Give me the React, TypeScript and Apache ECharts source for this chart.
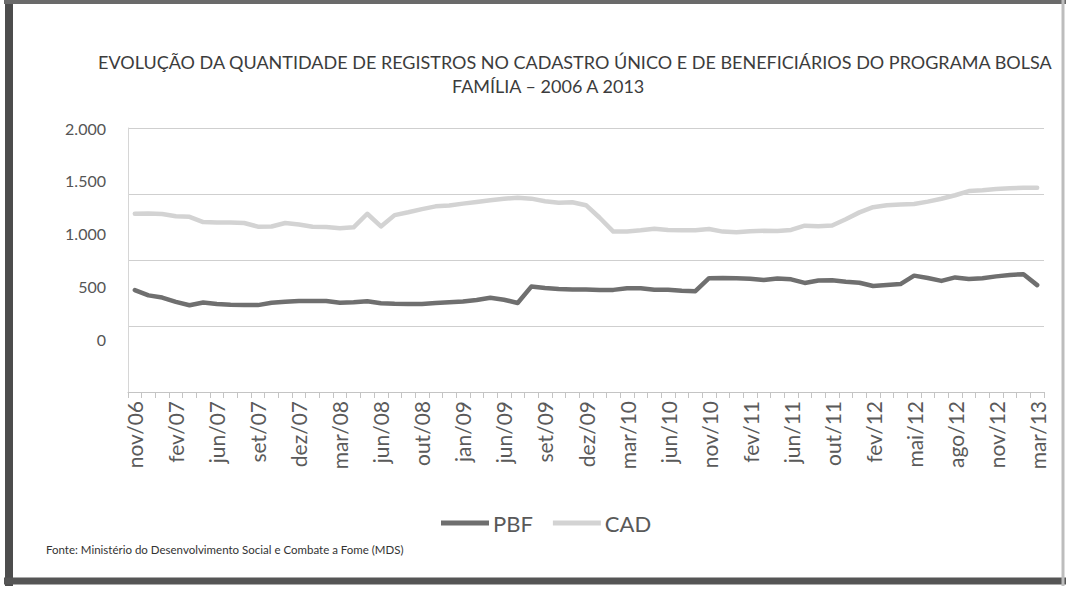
import React, { useEffect, useRef } from "react";
import * as echarts from "echarts";

const categories = [
  "nov/06","dez/06","jan/07","fev/07","mar/07","abr/07","jun/07","jul/07","ago/07","set/07",
  "out/07","nov/07","dez/07","jan/08","fev/08","mar/08","abr/08","mai/08","jun/08","jul/08",
  "ago/08","out/08","nov/08","dez/08","jan/09","fev/09","abr/09","jun/09","jul/09","ago/09",
  "set/09","out/09","nov/09","dez/09","jan/10","fev/10","mar/10","abr/10","mai/10","jun/10",
  "ago/10","out/10","nov/10","dez/10","jan/11","fev/11","mar/11","abr/11","jun/11","jul/11",
  "ago/11","out/11","nov/11","dez/11","fev/12","mar/12","abr/12","mai/12","jun/12","jul/12",
  "ago/12","set/12","out/12","nov/12","dez/12","jan/13","mar/13",
];

const pbf = [
  465, 415, 394, 354, 322, 347, 334, 326, 324, 323,
  346, 354, 361, 362, 361, 346, 351, 360, 340, 335,
  333, 334, 342, 350, 357, 372, 392, 374, 343, 498,
  484, 475, 470, 471, 466, 467, 482, 483, 468, 469,
  458, 455, 578, 580, 578, 573, 561, 575, 567, 533,
  555, 558, 543, 535, 504, 513, 522, 602, 579, 552,
  585, 571, 578, 595, 609, 615, 512,
];

const cad = [
  1189, 1190, 1185, 1164, 1159, 1109, 1104, 1105, 1100, 1066,
  1067, 1100, 1086, 1064, 1062, 1051, 1059, 1188, 1068, 1175,
  1202, 1232, 1258, 1266, 1284, 1300, 1315, 1329, 1340, 1331,
  1307, 1293, 1297, 1269, 1150, 1019, 1020, 1031, 1045, 1033,
  1031, 1032, 1043, 1019, 1013, 1022, 1026, 1024, 1035, 1075,
  1069, 1077, 1136, 1201, 1250, 1268, 1276, 1280, 1303, 1330,
  1363, 1403, 1411, 1422, 1430, 1434, 1435,
];

const titleLine1 =
  "EVOLUÇÃO DA QUANTIDADE DE REGISTROS NO CADASTRO ÚNICO E DE BENEFICIÁRIOS DO PROGRAMA BOLSA";
const titleLine2 = "FAMÍLIA – 2006 A 2013";
const sourceText = "Fonte: Ministério do Desenvolvimento Social e Combate a Fome (MDS)";

const fmt = (v: number) => {
  if (v < 0) return "";
  if (v >= 1000) {
    const t = Math.floor(v / 1000);
    const r = String(v % 1000).padStart(3, "0");
    return `${t}.${r}`;
  }
  return String(v);
};

export default function App() {
  const ref = useRef<HTMLDivElement>(null);
  useEffect(() => {
    if (!ref.current) return;
    const chart = echarts.init(ref.current, null, { renderer: "svg" });
    chart.setOption({
      animation: false,
      backgroundColor: "#ffffff",
      grid: { left: 128, right: 26, top: 128, bottom: 202 },
      legend: {
        left: 436,
        top: 507,
        icon: "rect",
        itemWidth: 48,
        itemHeight: 5,
        itemGap: 20,
        textStyle: {
          fontFamily: "Lato",
          fontSize: 22,
          color: "#595959",
          padding: [0, 0, 0, -1],
        },
        data: ["PBF", "CAD"],
      },
      xAxis: {
        type: "category",
        data: categories,
        boundaryGap: true,
        axisLine: { onZero: false, lineStyle: { color: "#c4c4c4", width: 1 } },
        axisTick: { show: true, interval: 0, length: 6, lineStyle: { color: "#c4c4c4" } },
        axisLabel: {
          interval: 2,
          rotate: 90,
          margin: 9,
          fontFamily: "Lato",
          fontSize: 21,
          color: "#5a5a5a",
        },
        splitLine: { show: false },
      },
      yAxis: [
        {
          type: "value",
          min: -500,
          max: 2000,
          interval: 500,
          axisLine: { show: true, lineStyle: { color: "#d6d6d6" } },
          axisTick: { show: false },
          splitLine: { show: false },
          axisLabel: {
            formatter: fmt,
            fontFamily: "Lato",
            fontSize: 16,
            color: "#555555",
            margin: 22,
          },
        },
        {
          type: "value",
          min: 0,
          max: 4,
          interval: 1,
          position: "left",
          axisLine: { show: false },
          axisTick: { show: false },
          axisLabel: { show: false },
          splitLine: { show: true, lineStyle: { color: "#cfcfcf", width: 1 } },
        },
      ],
      series: [
        {
          name: "PBF",
          type: "line",
          data: pbf,
          yAxisIndex: 0,
          symbol: "none",
          color: "#6f6f6f",
          lineStyle: { color: "#6f6f6f", width: 4.5, cap: "round", join: "round" },
        },
        {
          name: "CAD",
          type: "line",
          data: cad,
          yAxisIndex: 0,
          symbol: "none",
          color: "#d3d3d3",
          lineStyle: { color: "#d3d3d3", width: 4.5, cap: "round", join: "round" },
        },
      ],
      graphic: [
        {
          type: "text",
          left: 98,
          top: 53,
          style: {
            text: titleLine1,
            fontFamily: "Lato",
            fontSize: 18,
            fill: "#3c3c3c",
          },
        },
        {
          type: "text",
          left: 452,
          top: 77,
          style: {
            text: titleLine2,
            fontFamily: "Lato",
            fontSize: 18,
            fill: "#3c3c3c",
          },
        },
        {
          type: "text",
          left: 46,
          top: 543,
          style: {
            text: sourceText,
            fontFamily: "Lato",
            fontSize: 11.5,
            fill: "#333333",
          },
        },
        {
          type: "line",
          shape: { x1: 9, y1: 0, x2: 9, y2: 586 },
          style: { stroke: "#4d4d4d", lineWidth: 8 },
          silent: true,
        },
        {
          type: "line",
          shape: { x1: 4, y1: 581, x2: 1066, y2: 581 },
          style: { stroke: "#555555", lineWidth: 7 },
          silent: true,
        },
        {
          type: "line",
          shape: { x1: 4, y1: 2, x2: 1066, y2: 2 },
          style: { stroke: "#6a6a6a", lineWidth: 4 },
          silent: true,
        },
        {
          type: "line",
          shape: { x1: 1063, y1: 0, x2: 1063, y2: 586 },
          style: { stroke: "#bdbdbd", lineWidth: 3 },
          silent: true,
        },
      ],
    });
    return () => chart.dispose();
  }, []);
  return (
    <div
      ref={ref}
      style={{ position: "fixed", left: 0, top: 0, width: 1070, height: 594 }}
    />
  );
}
